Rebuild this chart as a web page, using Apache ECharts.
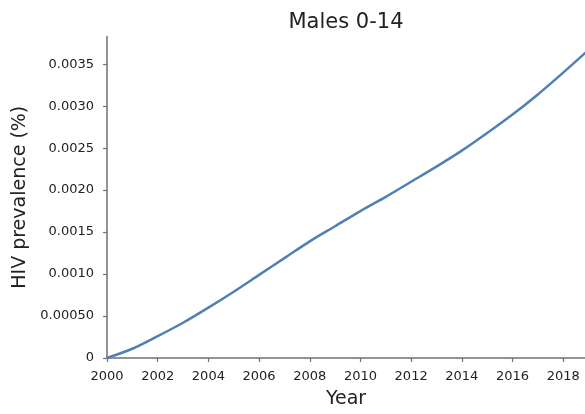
<!DOCTYPE html>
<html>
<head>
<meta charset="utf-8">
<script src="https://cdn.jsdelivr.net/npm/echarts@6/dist/echarts.min.js"></script>
<style>
html,body{margin:0;padding:0;background:#fff;}
#chart{width:585px;height:414px;}
</style>
</head>
<body>
<div id="chart"></div>
<script>
var years = [2000,2001,2002,2003,2004,2005,2006,2007,2008,2009,2010,2011,2012,2013,2014,2015,2016,2017,2018,2019];
var prevalence = [0,0.00011,0.00026,0.00042,0.0006,0.00079,0.00099,0.00119,0.00139,0.00157,0.00175,0.00192,0.0021,0.00228,0.00247,0.00268,0.0029,0.00314,0.0034,0.00367];
var titleText = 'Males 0-14';
var xName = 'Year';
var yName = 'HIV prevalence (%)';

var chart = echarts.init(document.getElementById('chart'), null, {renderer:'canvas'});
var font = 'DejaVu Sans';
var axisCol = '#707070';
chart.setOption({
  animation:false,
  backgroundColor:'#ffffff',
  title:{text:titleText,left:341,textAlign:'center',top:7,
    textStyle:{fontFamily:font,fontSize:21,fontWeight:'normal',color:'#222'}},
  grid:{left:107,right:0,top:36.5,bottom:55,containLabel:false},
  xAxis:{type:'value',min:2000,max:2018.86,interval:2,
    name:xName,nameLocation:'middle',nameGap:32,
    nameTextStyle:{fontFamily:font,fontSize:19,color:'#222'},
    axisLine:{show:true,onZero:false,lineStyle:{color:axisCol,width:1.5}},
    axisTick:{show:true,length:4,lineStyle:{color:axisCol,width:1.2}},
    axisLabel:{fontFamily:font,fontSize:13,color:'#222',margin:12,showMaxLabel:false,
      formatter:function(v){return (Math.abs(v-Math.round(v))<1e-6)?String(Math.round(v)):'';}},
    splitLine:{show:false}},
  yAxis:{type:'value',min:0,max:0.00383,interval:0.0005,
    name:yName,nameLocation:'middle',nameGap:76,nameRotate:90,
    nameTextStyle:{fontFamily:font,fontSize:19,color:'#222'},
    axisLine:{show:true,lineStyle:{color:axisCol,width:1.5}},
    axisTick:{show:true,length:4,lineStyle:{color:axisCol,width:1.2}},
    axisLabel:{fontFamily:font,fontSize:13,color:'#222',margin:13,showMaxLabel:false,
      formatter:function(v){
        if (v===0) return '0';
        if (Math.abs(v-0.0005)<1e-9) return '0.00050';
        var k = Math.round(v/0.0005);
        if (Math.abs(v-k*0.0005)>1e-9) return '';
        return v.toFixed(4);
      }},
    splitLine:{show:false}},
  series:[{type:'line',data:years.map(function(y,i){return [y,prevalence[i]];}),
    smooth:0.3,showSymbol:false,clip:true,
    lineStyle:{color:'#4f81b5',width:2.5}}]
});
</script>
</body>
</html>
